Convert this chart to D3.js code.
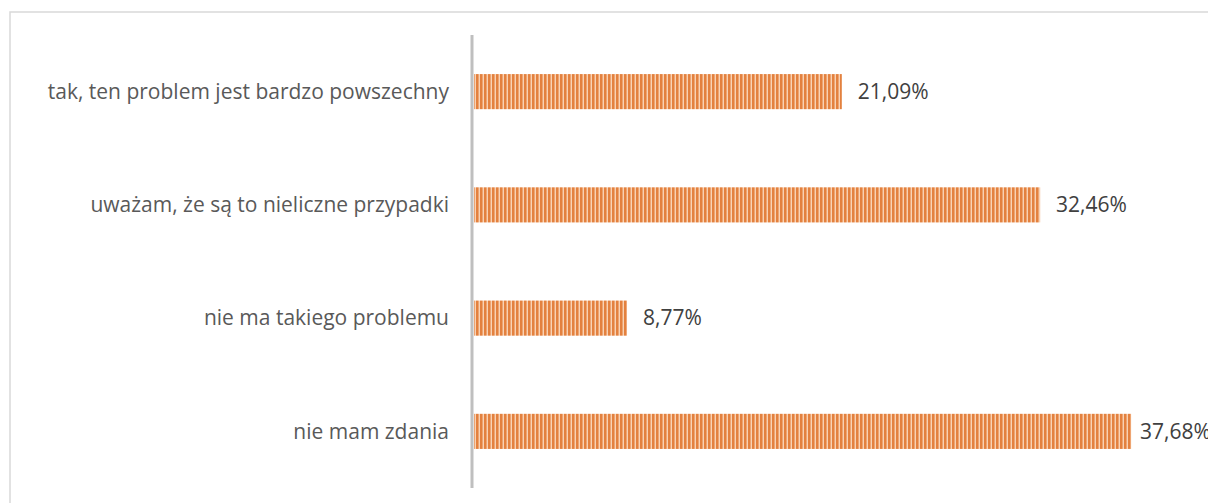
<!DOCTYPE html>
<html>
<head>
<meta charset="utf-8">
<script src="https://cdn.jsdelivr.net/npm/d3@7"></script>
<style>
  body { margin: 0; background: #fff; }
  svg { display: block; }
</style>
</head>
<body>
<svg id="chart" width="1208" height="503"></svg>
<script>
var width = 1208;
var height = 503;

// data
var categories = [
  "tak, ten problem jest bardzo powszechny",
  "uważam, że są to nieliczne przypadki",
  "nie ma takiego problemu",
  "nie mam zdania"
];
var values = [21.09, 32.46, 8.77, 37.68];
var valueLabels = ["21,09%", "32,46%", "8,77%", "37,68%"];

var axisX = 472;
var plotTop = 35;
var plotBottom = 488;
var pxPerPct = 17.44;
var labelMaxX = 1140; // labels are pushed left so they stay in the chart area

var svg = d3.select("#chart");

// outer frame (chart area border)
svg.append("rect")
  .attr("x", 10).attr("y", 12)
  .attr("width", 1220).attr("height", 520)
  .attr("fill", "none")
  .attr("stroke", "#d9d9d9")
  .attr("stroke-width", 1.5);

// vertical stripe pattern for the bars
var defs = svg.append("defs");
var pat = defs.append("pattern")
  .attr("id", "stripes")
  .attr("patternUnits", "userSpaceOnUse")
  .attr("width", 4).attr("height", 10);
pat.append("rect").attr("width", 4).attr("height", 10).attr("fill", "#f8d2b4");
pat.append("rect").attr("x", 0).attr("width", 2).attr("height", 10).attr("fill", "#e3813f");
pat.append("rect").attr("x", 2).attr("width", 1).attr("height", 10).attr("fill", "#eea572");

var x = d3.scaleLinear()
  .domain([0, 1])
  .range([axisX + 2, axisX + 2 + pxPerPct]);

var y = d3.scaleBand()
  .domain(categories)
  .range([plotTop, plotBottom])
  .paddingInner(0.69)
  .paddingOuter(0.345);

// bars
svg.selectAll("rect.bar")
  .data(values)
  .enter().append("rect")
  .attr("class", "bar")
  .attr("x", x(0))
  .attr("y", function(d, i){ return y(categories[i]); })
  .attr("width", function(d){ return x(d) - x(0); })
  .attr("height", y.bandwidth())
  .attr("fill", "url(#stripes)");

// category axis line
svg.append("line")
  .attr("x1", axisX).attr("x2", axisX)
  .attr("y1", plotTop).attr("y2", plotBottom)
  .attr("stroke", "#bfbfbf")
  .attr("stroke-width", 3);

// category labels
svg.selectAll("text.cat")
  .data(categories)
  .enter().append("text")
  .attr("class", "cat")
  .attr("x", 449)
  .attr("y", function(d){ return y(d) + y.bandwidth() / 2; })
  .attr("dy", "0.35em")
  .attr("text-anchor", "end")
  .attr("font-family", "'Open Sans', sans-serif")
  .attr("font-size", 21)
  .attr("fill", "#595959")
  .text(function(d){ return d; });

// value labels
svg.selectAll("text.val")
  .data(values)
  .enter().append("text")
  .attr("class", "val")
  .attr("x", function(d){ return Math.min(x(d) + 16, labelMaxX); })
  .attr("y", function(d, i){ return y(categories[i]) + y.bandwidth() / 2; })
  .attr("dy", "0.35em")
  .attr("font-family", "'Open Sans', sans-serif")
  .attr("font-size", 21)
  .attr("fill", "#404040")
  .text(function(d, i){ return valueLabels[i]; });
</script>
</body>
</html>
